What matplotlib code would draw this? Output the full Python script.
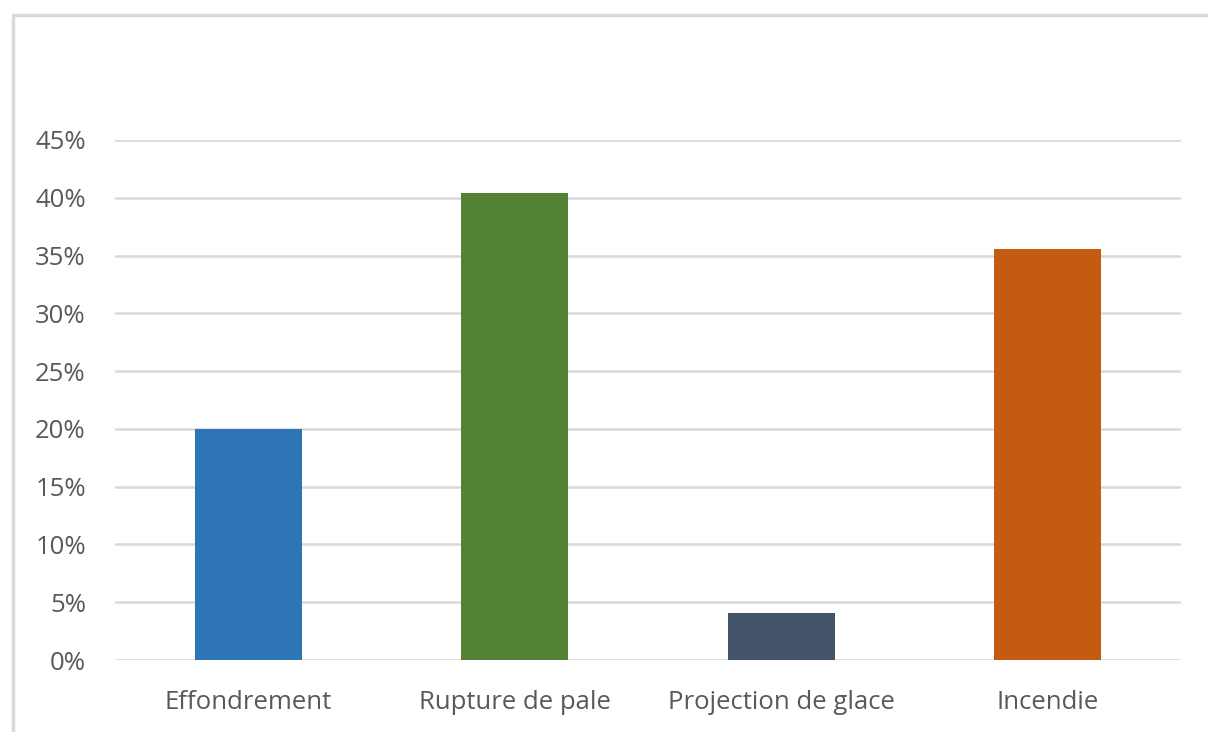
import matplotlib
matplotlib.use("Agg")
import matplotlib.pyplot as plt
from matplotlib.patches import Rectangle
from matplotlib.ticker import FuncFormatter

categories = ["Effondrement", "Rupture de pale", "Projection de glace", "Incendie"]
values = [0.20, 0.404, 0.041, 0.356]
colors = ["#2E75B6", "#548235", "#44546A", "#C55A11"]
yticks = [0, 0.05, 0.10, 0.15, 0.20, 0.25, 0.30, 0.35, 0.40, 0.45]

plt.rcParams['font.family'] = ['Open Sans', 'DejaVu Sans']

W, H = 1208, 732
fig = plt.figure(figsize=(W/100, H/100), dpi=100)
fig.patches.append(Rectangle((13/W, -0.5), 2, 1.5 - 15/H, transform=fig.transFigure,
                             fill=False, edgecolor="#D9D9D9", linewidth=2.5, zorder=0))
ax = fig.add_axes([115/W, 1 - 660/H, (1181-115)/W, (660-140)/H])

x = list(range(len(categories)))
ax.bar(x, values, width=0.4, color=colors, zorder=3)
ax.set_xlim(-0.5, len(categories) - 0.5)
ax.set_ylim(0, 0.45)
ax.set_yticks(yticks)
ax.yaxis.set_major_formatter(FuncFormatter(lambda v, p: f"{round(v*100)}%"))
ax.set_xticks(x)
ax.set_xticklabels(categories)
ax.grid(axis='y', color="#D9D9D9", linewidth=1.8, zorder=0)
for s in ax.spines.values():
    s.set_visible(False)
ax.tick_params(axis='both', length=0, colors="#595959", labelsize=18.5)
ax.tick_params(axis='y', pad=21)
ax.tick_params(axis='x', pad=21.5)
for lbl in ax.get_yticklabels() + ax.get_xticklabels():
    lbl.set_color("#595959")

fig.savefig("out.png", dpi=100)
